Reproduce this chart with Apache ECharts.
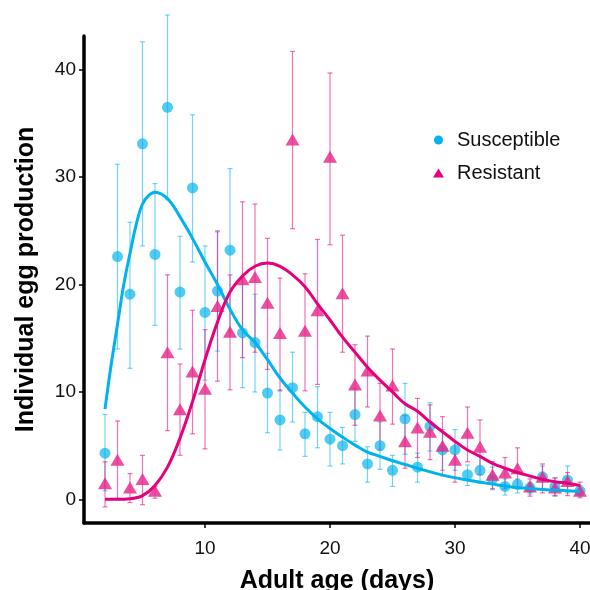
<!DOCTYPE html>
<html>
<head>
<meta charset="utf-8">
<script src="https://cdn.jsdelivr.net/npm/echarts@6/dist/echarts.min.js"></script>
<style>
  html, body { margin: 0; padding: 0; background: #fff; }
  #chart { width: 590px; height: 590px; }
</style>
</head>
<body>
<div id="chart"></div>
<script>
  // observed days
  const days = [2, 3, 4, 5, 6, 7, 8, 9, 10, 11, 12, 13, 14, 15, 16, 17, 18, 19, 20, 21,
    22, 23, 24, 25, 26, 27, 28, 29, 30, 31, 32, 33, 34, 35, 36, 37, 38, 39, 40];

  // Susceptible: mean and error bar limits
  const suscMean = [4.3, 22.6, 19.1, 33.1, 22.8, 36.5, 19.3, 29.0, 17.4, 19.4, 23.2, 15.5, 14.6, 9.9, 7.4, 10.4, 6.1, 7.7, 5.6, 5.0,
    7.9, 3.3, 5.0, 2.7, 7.5, 3.0, 6.8, 4.6, 4.6, 2.3, 2.7, 1.9, 1.2, 1.4, 1.1, 2.1, 1.2, 1.8, 0.8];
  const suscLow = [0.8, 14.0, 12.2, 23.6, 16.2, 27.9, 14.0, 22.1, 11.1, 13.8, 15.6, 10.4, 10.0, 6.2, 4.6, 7.2, 4.0, 4.8, 3.1, 3.3,
    5.4, 1.6, 2.8, 1.2, 4.2, 1.6, 4.5, 2.7, 2.7, 1.3, 1.5, 0.9, 0.4, 0.6, 0.5, 1.0, 0.3, 0.6, 0.3];
  const suscHigh = [7.9, 31.2, 25.8, 42.6, 29.4, 45.1, 24.5, 35.8, 23.6, 24.9, 30.8, 20.6, 19.1, 13.6, 10.2, 13.7, 8.1, 10.5, 8.1, 6.7,
    10.3, 4.9, 7.2, 4.1, 10.8, 4.3, 9.0, 6.5, 6.5, 3.2, 4.0, 3.0, 1.9, 1.9, 1.6, 3.1, 2.0, 3.1, 1.3];

  // Resistant: mean and error bar limits
  const resMean = [1.5, 3.7, 1.1, 1.9, 0.8, 13.7, 8.4, 11.9, 10.3, 18.0, 15.6, 20.5, 20.7, 18.3, 15.5, 33.5, 15.7, 17.6, 31.9, 19.2,
    10.7, 12.0, 7.8, 10.6, 5.4, 6.7, 6.3, 5.0, 3.7, 6.2, 4.9, 2.3, 2.5, 2.9, 1.2, 2.1, 1.1, 1.7, 0.8];
  const resLow = [-0.7, 0.1, -0.3, -0.5, 0.1, 6.4, 4.1, 6.1, 4.7, 11.0, 10.2, 13.2, 13.7, 12.1, 10.1, 25.2, 10.1, 10.7, 23.7, 13.7,
    6.9, 8.6, 4.6, 7.0, 2.9, 3.9, 3.7, 2.2, 1.6, 3.5, 2.3, 1.0, 1.0, 1.0, 0.3, 0.6, 0.35, 0.35, 0.15];
  const resHigh = [3.5, 7.3, 2.4, 4.1, 1.2, 20.9, 12.6, 17.6, 15.8, 25.0, 20.9, 27.7, 27.5, 24.3, 20.6, 41.7, 21.0, 24.2, 39.7, 24.6,
    14.4, 15.2, 10.8, 14.0, 7.8, 9.4, 8.8, 7.7, 5.4, 8.6, 7.4, 3.5, 3.9, 4.8, 1.9, 3.3, 2.0, 2.5, 1.6];

  // fitted curves
  const suscFitDays = [2, 2.5, 3, 3.5, 4, 4.5, 5, 5.5, 6, 7, 8, 9, 10, 11, 12, 13, 14, 15, 16, 17, 18, 19, 20,
    21, 22, 23, 24, 25, 26, 27, 29, 31, 33, 35, 37, 39, 40];
  const suscFit = [8.4, 12.6, 16.3, 20.0, 22.9, 25.6, 27.5, 28.3, 28.6, 28.0, 26.3, 24.3, 22.1, 20.0, 17.7, 15.8, 14.6, 13.0, 11.3, 9.9, 8.6, 7.5, 6.6,
    5.8, 5.05, 4.4, 4.0, 3.6, 3.25, 2.9, 2.26, 1.8, 1.42, 1.1, 0.93, 0.8, 0.74];
  const resFitDays = [2, 3, 4, 5, 6, 7, 8, 9, 10, 11, 12, 13, 14, 15, 16, 17, 18, 19, 20, 21, 22, 23, 24, 25, 26,
    27, 28, 29, 30, 31, 32, 33, 34, 35, 36, 37, 38, 39, 40];
  const resFit = [0, 0, 0.05, 0.35, 1.3, 3.0, 5.7, 9.1, 13.0, 16.5, 19.3, 20.8, 21.7, 22.0, 21.7, 20.9, 19.8, 18.2, 16.7, 15.1, 13.7, 12.3, 11.1, 10.0, 8.9,
    8.2, 7.2, 6.3, 5.4, 4.6, 4.0, 3.35, 2.9, 2.5, 2.17, 1.86, 1.64, 1.5, 1.3];

  const xTicks = [10, 20, 30, 40];
  const yTicks = [0, 10, 20, 30, 40];

  const blue = '#00b2ee';
  const pink = '#e5007d';
  const font = 'Liberation Sans';

  const zip = (xs, ys) => xs.map((x, i) => [x, ys[i]]);

  function errorBars(color) {
    return function (params, api) {
      const x = api.value(0);
      const lo = api.coord([x, api.value(1)]);
      const hi = api.coord([x, api.value(2)]);
      const w = 2.5;
      const style = { stroke: color, lineWidth: 1.2, opacity: 0.55 };
      return {
        type: 'group',
        children: [
          { type: 'line', shape: { x1: lo[0], y1: lo[1], x2: hi[0], y2: hi[1] }, style },
          { type: 'line', shape: { x1: lo[0] - w, y1: lo[1], x2: lo[0] + w, y2: lo[1] }, style },
          { type: 'line', shape: { x1: hi[0] - w, y1: hi[1], x2: hi[0] + w, y2: hi[1] }, style }
        ]
      };
    };
  }

  const chart = echarts.init(document.getElementById('chart'));

  chart.setOption({
    animation: false,
    backgroundColor: '#fff',
    textStyle: { fontFamily: font },
    grid: { left: 84, right: 0, top: 36, bottom: 67, containLabel: false, outerBoundsMode: 'none' },
    legend: {
      orient: 'vertical',
      left: 428,
      top: 125,
      itemWidth: 11,
      itemHeight: 9,
      itemGap: 13,
      textStyle: { fontSize: 20, lineHeight: 20, color: '#111', fontFamily: font, padding: [0, 0, 0, 8] },
      data: [
        { name: 'Susceptible', icon: 'circle', itemStyle: { color: blue, opacity: 1 } },
        { name: 'Resistant', icon: 'triangle', itemStyle: { color: pink, opacity: 1 } }
      ]
    },
    xAxis: {
      type: 'value',
      min: 0.32,
      max: 40.8,
      name: 'Adult age (days)',
      nameLocation: 'middle',
      nameGap: 46,
      nameTextStyle: { fontSize: 25, fontWeight: 'bold', color: '#000', fontFamily: font },
      axisLine: { onZero: false, lineStyle: { color: '#000', width: 3.5 } },
      axisTick: { length: 5, lineStyle: { color: '#000', width: 1.5 }, customValues: xTicks },
      axisLabel: { fontSize: 19, color: '#111', margin: 16, customValues: xTicks },
      splitLine: { show: false }
    },
    yAxis: {
      type: 'value',
      min: -2.2,
      max: 43.14,
      name: 'Individual egg production',
      nameLocation: 'middle',
      nameGap: 45,
      nameTextStyle: { fontSize: 25, fontWeight: 'bold', color: '#000', fontFamily: font },
      axisLine: { show: true, onZero: false, lineStyle: { color: '#000', width: 3.5 } },
      axisTick: { show: true, length: 5, lineStyle: { color: '#000', width: 1.5 }, customValues: yTicks },
      axisLabel: { fontSize: 19, color: '#111', margin: 8, customValues: yTicks },
      splitLine: { show: false }
    },
    series: [
      {
        name: 'SusceptibleErr',
        type: 'custom',
        renderItem: errorBars(blue),
        data: days.map((d, i) => [d, suscLow[i], suscHigh[i]]),
        z: 1
      },
      {
        name: 'ResistantErr',
        type: 'custom',
        renderItem: errorBars(pink),
        data: days.map((d, i) => [d, resLow[i], resHigh[i]]),
        z: 1
      },
      {
        name: 'Susceptible',
        type: 'scatter',
        symbol: 'circle',
        symbolSize: 11,
        itemStyle: { color: blue, opacity: 0.68 },
        data: zip(days, suscMean),
        z: 2
      },
      {
        name: 'Resistant',
        type: 'scatter',
        symbol: 'triangle',
        symbolSize: [14, 12],
        itemStyle: { color: '#e8288a', opacity: 0.82 },
        data: zip(days, resMean),
        z: 2
      },
      {
        name: 'SusceptibleFit',
        type: 'line',
        smooth: 0.4,
        showSymbol: false,
        lineStyle: { color: blue, width: 3 },
        data: zip(suscFitDays, suscFit),
        z: 3
      },
      {
        name: 'ResistantFit',
        type: 'line',
        smooth: 0.4,
        showSymbol: false,
        lineStyle: { color: pink, width: 3 },
        data: zip(resFitDays, resFit),
        z: 3
      }
    ]
  });
</script>
</body>
</html>
